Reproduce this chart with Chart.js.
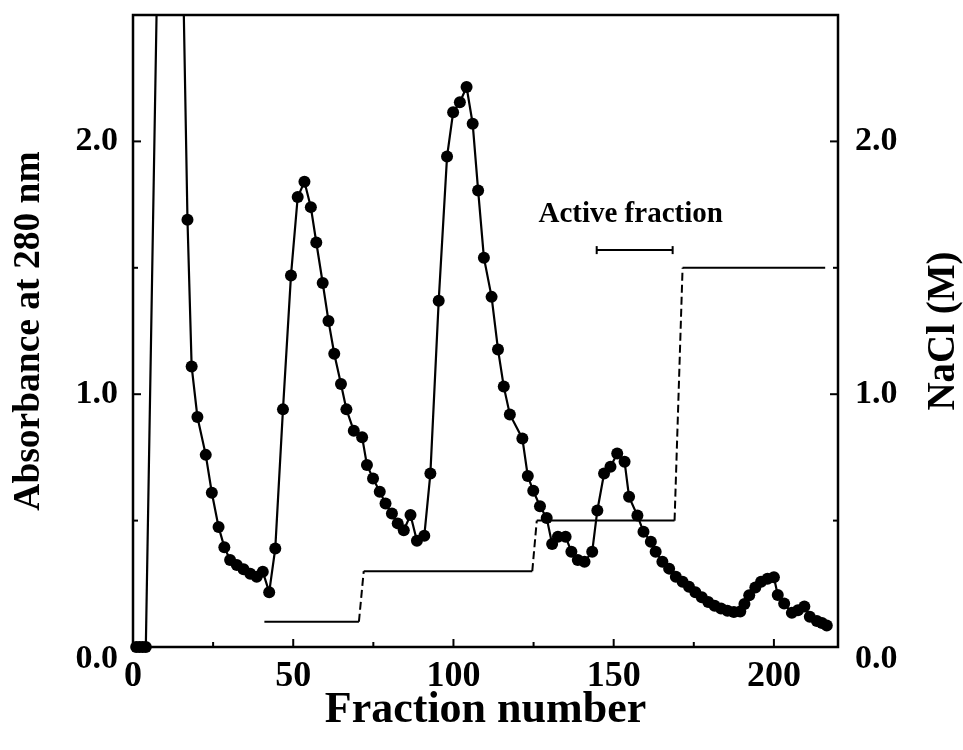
<!DOCTYPE html>
<html>
<head>
<meta charset="utf-8">
<script src="https://cdn.jsdelivr.net/npm/chart.js@4/dist/chart.umd.min.js"></script>
<style>
  html, body { margin: 0; padding: 0; background: #fff; }
  #wrap { width: 963px; height: 750px; }
</style>
</head>
<body>
<div id="wrap"><canvas id="c" width="963" height="750"></canvas></div>
<script>
// ---- Data ----
const fractions = [1, 2, 3, 4, 11.5, 17, 18.3, 20.1, 22.7, 24.6, 26.7, 28.5, 30.3, 32.4, 34.5, 36.6, 38.6, 40.5, 42.5, 44.4,
  46.8, 49.3, 51.4, 53.5, 55.5, 57.2, 59.2, 61, 62.8, 64.9, 66.6, 68.9, 71.5, 73.0, 74.9, 77.0, 78.8, 80.8, 82.6, 84.5,
  86.6, 88.6, 90.9, 92.8, 95.4, 98, 99.9, 102, 104.1, 106, 107.7, 109.5, 111.9, 113.9, 115.7, 117.6, 121.5, 123.2, 124.9, 127,
  129.1, 130.8, 132.6, 135, 136.8, 138.8, 140.9, 143.3, 144.9, 147, 149, 151.1, 153.4, 154.8, 157.4, 159.3, 161.6, 163.1, 165.2, 167.3,
  169.4, 171.5, 173.5, 175.5, 177.5, 179.5, 181.5, 183.5, 185.5, 187.5, 189.5, 190.8, 192.3, 194.2, 196, 198, 200, 201.2, 203.2, 205.6,
  207.5, 209.5, 211.2, 213.4, 215, 216.5];
const absorbance = [0, 0, 0, 0, 5.6, 1.69, 1.11, 0.91, 0.76, 0.61, 0.475, 0.395, 0.344, 0.324, 0.308, 0.29, 0.278, 0.298, 0.217, 0.39,
  0.94, 1.47, 1.78, 1.84, 1.74, 1.60, 1.44, 1.29, 1.16, 1.04, 0.94, 0.855, 0.83, 0.72, 0.667, 0.614, 0.568, 0.528, 0.489, 0.462,
  0.522, 0.42, 0.44, 0.686, 1.37, 1.94, 2.115, 2.155, 2.215, 2.07, 1.806, 1.54, 1.385, 1.177, 1.03, 0.92, 0.825, 0.676, 0.618, 0.557,
  0.51, 0.407, 0.436, 0.436, 0.377, 0.344, 0.337, 0.377, 0.54, 0.686, 0.713, 0.765, 0.733, 0.594, 0.52, 0.456, 0.416, 0.377, 0.337, 0.31,
  0.278, 0.258, 0.238, 0.217, 0.197, 0.178, 0.163, 0.152, 0.143, 0.138, 0.14, 0.17, 0.205, 0.235, 0.258, 0.27, 0.276, 0.206, 0.172, 0.135,
  0.145, 0.16, 0.12, 0.103, 0.095, 0.085];

const naclFractions = [41, 70.5, 72, 124.6, 126, 169, 171.5, 216];
const naclMolar     = [0.1, 0.1, 0.3, 0.3, 0.5, 0.5, 1.5, 1.5];

const activeRange = [144.7, 168.4];
const activeLevel = 1.57;
const activeLabel = 'Active fraction';
const activeLabelPos = [155.3, 1.68];

const xTitle = 'Fraction number';
const yTitle = 'Absorbance at 280 nm';
const y2Title = 'NaCl (M)';

const FONT = '"Liberation Serif", "Times New Roman", serif';

// ---- Chart ----
const absData = fractions.map((f, i) => ({ x: f, y: absorbance[i] }));
const naclData = naclFractions.map((f, i) => ({ x: f, y: naclMolar[i] }));
const activeData = activeRange.map(f => ({ x: f, y: activeLevel }));

const decor = {
  id: 'decor',
  afterDraw(chart) {
    const { ctx, chartArea: a, scales } = chart;
    ctx.save();
    ctx.strokeStyle = '#000';
    ctx.fillStyle = '#000';
    ctx.lineWidth = 2.5;
    ctx.strokeRect(a.left, a.top, a.right - a.left, a.bottom - a.top);
    ctx.lineWidth = 2;
    const seg = (x1, y1, x2, y2) => { ctx.beginPath(); ctx.moveTo(x1, y1); ctx.lineTo(x2, y2); ctx.stroke(); };
    scales.x.ticks.forEach(t => {
      if (t.value <= scales.x.min || t.value >= scales.x.max) return;
      const px = scales.x.getPixelForValue(t.value);
      const len = t.value % 50 === 0 ? 8 : 5;
      seg(px, a.bottom, px, a.bottom - len);
    });
    scales.y.ticks.forEach(t => {
      if (t.value <= scales.y.min || t.value >= scales.y.max) return;
      const py = scales.y.getPixelForValue(t.value);
      const len = Number.isInteger(t.value) ? 8 : 5;
      seg(a.left, py, a.left + len, py);
    });
    scales.y1.ticks.forEach(t => {
      if (t.value <= scales.y1.min || t.value >= scales.y1.max) return;
      const py = scales.y1.getPixelForValue(t.value);
      const len = Number.isInteger(t.value) ? 8 : 5;
      seg(a.right, py, a.right - len, py);
    });
    // Active fraction label
    ctx.font = 'bold 29px ' + FONT;
    ctx.textAlign = 'center';
    ctx.textBaseline = 'alphabetic';
    ctx.fillText(activeLabel, scales.x.getPixelForValue(activeLabelPos[0]), scales.y.getPixelForValue(activeLabelPos[1]));
    // Right axis title (reads bottom to top)
    ctx.font = 'bold 39px ' + FONT;
    ctx.textBaseline = 'middle';
    ctx.translate(944, (a.top + a.bottom) / 2);
    ctx.rotate(-Math.PI / 2);
    ctx.fillText(y2Title, 0, 0);
    ctx.restore();
  }
};

const noPadV = s => { s.paddingTop = 0; s.paddingBottom = 0; };

new Chart(document.getElementById('c'), {
  type: 'line',
  data: {
    datasets: [
      {
        label: 'A280',
        data: absData,
        yAxisID: 'y',
        borderColor: '#000',
        backgroundColor: '#000',
        borderWidth: 2.2,
        pointRadius: 6,
        pointBorderWidth: 0,
        pointBackgroundColor: '#000',
        tension: 0,
        clip: { left: 10, right: 10, top: 0, bottom: 10 }
      },
      {
        label: 'NaCl',
        data: naclData,
        yAxisID: 'y1',
        borderColor: '#000',
        borderWidth: 2,
        pointRadius: 0,
        tension: 0,
        segment: {
          borderDash: ctx => ctx.p0.parsed.y !== ctx.p1.parsed.y ? [8, 4] : undefined
        }
      },
      {
        label: 'Active',
        data: activeData,
        yAxisID: 'y',
        borderColor: '#000',
        borderWidth: 2,
        pointStyle: 'line',
        rotation: 90,
        pointRadius: 4,
        pointBorderWidth: 2,
        pointBorderColor: '#000'
      }
    ]
  },
  options: {
    responsive: false,
    animation: false,
    devicePixelRatio: 1,
    layout: { padding: { top: 15, left: 0, right: 0, bottom: 0 } },
    plugins: { legend: { display: false }, tooltip: { enabled: false } },
    scales: {
      x: {
        type: 'linear',
        min: 0, max: 220,
        grid: { display: false, drawTicks: false },
        border: { display: false },
        ticks: {
          stepSize: 25,
          includeBounds: false,
          autoSkip: false,
          maxRotation: 0,
          padding: 8,
          color: '#000',
          font: { family: FONT, size: 36, weight: 'bold' },
          callback: v => (v % 50 === 0 ? String(v) : '')
        },
        title: {
          display: true,
          text: xTitle,
          color: '#000',
          font: { family: FONT, size: 44, weight: 'bold', lineHeight: 1 },
          padding: { top: 0, bottom: 17 }
        },
        afterFit: s => { s.height = 103; s.paddingLeft = 0; s.paddingRight = 0; }
      },
      y: {
        type: 'linear',
        position: 'left',
        min: 0, max: 2.5,
        grid: { display: false, drawTicks: false },
        border: { display: false },
        ticks: {
          stepSize: 0.5,
          padding: 15,
          color: '#000',
          font: { family: FONT, size: 34, weight: 'bold', lineHeight: 0.7 },
          callback: v => (v === 0 ? ['', '0.0'] : (Number.isInteger(v) ? v.toFixed(1) : ''))
        },
        title: {
          display: true,
          text: yTitle,
          color: '#000',
          font: { family: FONT, size: 37.5, weight: 'bold', lineHeight: 1 },
          padding: { top: 11, bottom: 0 }
        },
        afterFit: s => { s.width = 133; noPadV(s); }
      },
      y1: {
        type: 'linear',
        position: 'right',
        min: 0, max: 2.5,
        grid: { display: false, drawTicks: false },
        border: { display: false },
        ticks: {
          stepSize: 0.5,
          padding: 17,
          color: '#000',
          font: { family: FONT, size: 34, weight: 'bold', lineHeight: 0.7 },
          callback: v => (v === 0 ? ['', '0.0'] : (Number.isInteger(v) ? v.toFixed(1) : ''))
        },
        afterFit: s => { s.width = 125; noPadV(s); }
      }
    }
  },
  plugins: [decor]
});
</script>
</body>
</html>
